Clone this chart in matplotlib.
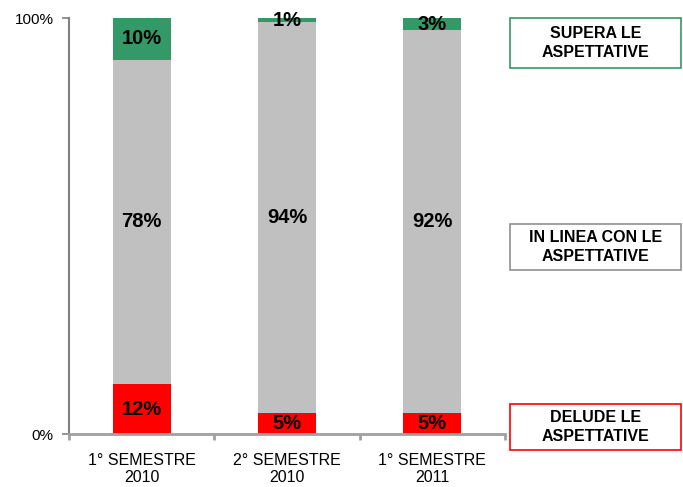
import matplotlib.pyplot as plt
from matplotlib.patches import Rectangle

plt.rcParams['font.family'] = ['Liberation Sans', 'DejaVu Sans']

# =========================================================
# DATA
# =========================================================

categories = ["1° SEMESTRE\n2010", "2° SEMESTRE\n2010", "1° SEMESTRE\n2011"]

delude = [12, 5, 5]
in_linea = [78, 94, 92]
supera = [10, 1, 3]

series_names = ["DELUDE LE\nASPETTATIVE", "IN LINEA CON LE\nASPETTATIVE", "SUPERA LE\nASPETTATIVE"]
series_colors = ["#FF0000", "#C0C0C0", "#339966"]

# =========================================================
# PLOT
# =========================================================

fig = plt.figure(figsize=(6.83, 4.87), dpi=100)
ax = fig.add_axes([69 / 683, 1 - 434 / 487, (505 - 69) / 683, (434 - 18) / 487])

x = range(len(categories))
bottom = [0] * len(categories)

for vals, color in zip([delude, in_linea, supera], series_colors):
    ax.bar(x, vals, width=0.4, bottom=bottom, color=color, edgecolor="none")
    for i, v in enumerate(vals):
        ax.text(i, bottom[i] + v / 2, f"{v}%", ha="center", va="center",
                fontsize=14.5, fontweight="bold", color="black")
    bottom = [b + v for b, v in zip(bottom, vals)]

ax.set_xlim(-0.5, 2.5)
ax.set_ylim(0, 100)

ax.set_yticks([0, 100])
ax.set_yticklabels(["0%", "100%"], fontsize=11)
ax.set_xticks(list(x))
ax.set_xticklabels(categories, fontsize=11.5, linespacing=1.12)
ax.set_xticks([-0.5, 0.5, 1.5, 2.5], minor=True)
ax.tick_params(axis="x", which="major", length=0, pad=14)
ax.tick_params(axis="x", which="minor", length=4, color="#A0A0A0", width=2)
ax.tick_params(axis="y", length=5, color="#808080", width=1.2, pad=6)

for side in ["top", "right"]:
    ax.spines[side].set_visible(False)
ax.spines["left"].set_color("#808080")
ax.spines["left"].set_linewidth(1.5)
ax.spines["bottom"].set_color("#A0A0A0")
ax.spines["bottom"].set_linewidth(2)

# legend boxes on the right
box_y = [(404, 450), (224, 270), (18, 68)]
for name, color, (y0, y1) in zip(series_names, series_colors, box_y):
    fig.patches.append(Rectangle(
        (510 / 683, 1 - y1 / 487), (681 - 510) / 683, (y1 - y0) / 487,
        transform=fig.transFigure, facecolor="white",
        edgecolor=color if color != "#C0C0C0" else "#909090", linewidth=1.2
    ))
    fig.text((510 + 681) / 2 / 683, 1 - (y0 + y1) / 2 / 487, name,
             ha="center", va="center", fontsize=11.5, fontweight="bold",
             linespacing=1.35)

plt.savefig("out.png", dpi=100)
